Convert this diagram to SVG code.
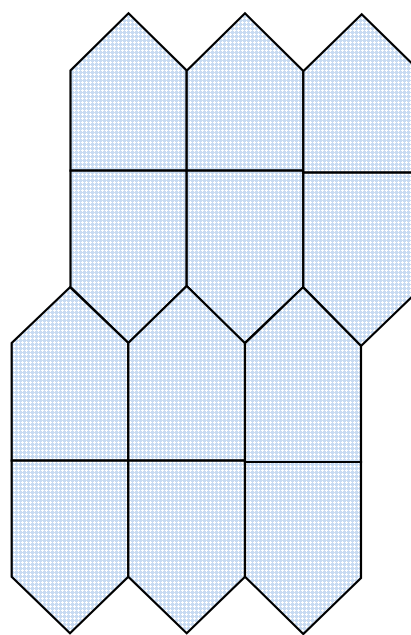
<svg xmlns="http://www.w3.org/2000/svg" width="411" height="635" viewBox="0 0 411 635">
  <defs>
    <pattern id="hatch" width="4" height="4" patternUnits="userSpaceOnUse">
      <rect width="4" height="4" fill="#c8dbf2"/>
      <rect x="2" y="1" width="1" height="3" fill="#ffffff"/>
      <rect x="1" y="2" width="3" height="1" fill="#ffffff"/>
    </pattern>
  </defs>
  <style>
    .cell { fill: url(#hatch); stroke: #000000; stroke-width: 2.2; stroke-linejoin: miter; }
  </style>
  <rect width="411" height="635" fill="#ffffff"/>

  <g id="hex-top-1">
    <path class="cell" d="M70.5,170.7 V70.5 L128.5,13.3 L186.7,70.5 V170.7 Z"/>
    <path class="cell" d="M70.5,170.7 H186.7 V286 L128.5,343 L70.5,287 Z"/>
  </g>
  <g id="hex-top-2">
    <path class="cell" d="M186.7,170.7 V70.7 L245,13.3 L303.3,71 V170.7 Z"/>
    <path class="cell" d="M186.7,170.7 H303.3 V287.3 L244.5,343.3 L186.7,286 Z"/>
  </g>
  <g id="hex-top-3">
    <path class="cell" d="M303.3,172.7 V71.3 L361.7,14.3 L420,71.3 V172.7 Z"/>
    <path class="cell" d="M303.3,172.7 H420 V289 L361,346 L303.3,287.3 Z"/>
  </g>

  <g id="hex-bottom-1">
    <path class="cell" d="M11.7,460.7 V343 L70,287.3 L128.3,343 V460.7 Z"/>
    <path class="cell" d="M11.7,460.7 H128.3 V576.7 L70,633.3 L11.7,576.7 Z"/>
  </g>
  <g id="hex-bottom-2">
    <path class="cell" d="M128.3,460.7 V343 L186.7,286 L245,343.3 V460.7 Z"/>
    <path class="cell" d="M128.3,460.7 H245 V576.7 L186.7,633.3 L128.3,576.7 Z"/>
  </g>
  <g id="hex-bottom-3">
    <path class="cell" d="M245,462 V343.3 L303,287.3 L361,346 V462 Z"/>
    <path class="cell" d="M245,462 H361 V578 L303.3,634 L245,576.7 Z"/>
  </g>
</svg>
